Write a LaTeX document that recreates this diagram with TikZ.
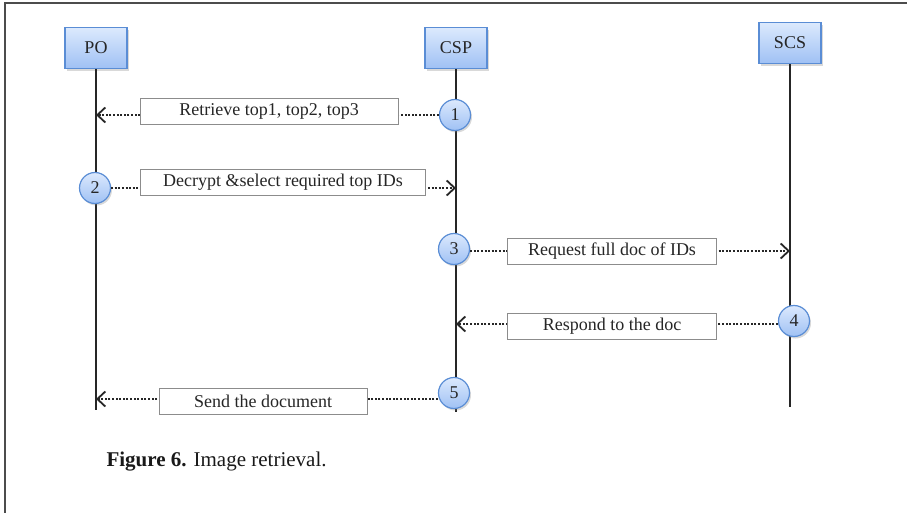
\documentclass[tikz,border=0pt]{standalone}
\usepackage{fontspec}
\setmainfont{Liberation Serif}
\usepackage{color}
\usetikzlibrary{positioning}
\usetikzlibrary{arrows.meta,shadows}

\definecolor{boxtop}{HTML}{DCE9FD}
\definecolor{boxbot}{HTML}{9FC1F4}
\definecolor{boxedge}{HTML}{5A8DD5}

\begin{document}
\begin{tikzpicture}
				[x=1pt,y=-1pt,
					every node/.style={font=\fontsize{18}{20}\selectfont,text=black!85},
					actor/.style={rectangle,draw=boxedge,line width=1.2pt,top color=boxtop,bottom color=boxbot,
						minimum width=62pt,minimum height=41pt,inner sep=0pt,
						drop shadow={opacity=0.3,shadow xshift=2pt,shadow yshift=-2.5pt}},
					stepnum/.style={circle,draw=boxedge,line width=1.2pt,top color=boxtop,bottom color=boxbot,
						minimum size=31pt,inner sep=0pt,
						drop shadow={opacity=0.3,shadow xshift=1.5pt,shadow yshift=-2pt}},
					lbl/.style={rectangle,draw=black!45,line width=0.7pt,fill=white,minimum height=26pt,inner sep=0pt},
					life/.style={line width=1.6pt,black!85},
					msg/.style={line width=2pt,dash pattern=on 2pt off 1.6pt,black!85,
						-{Straight Barb[length=8pt,width=15pt,line width=1.8pt]}}]
				\useasboundingbox (0,0) rectangle (907,513);
				% frame
				\draw[line width=1.4pt,black!70] (5,513) -- (5,3) -- (907,3);
				% lifelines
				\node[actor] (po) at (96,48) {PO};
				\node[actor] (csp) at (456,48) {CSP};
				\node[actor] (scs) at (790,43) {SCS};
				\coordinate (po end) at (96,410);
				\coordinate (csp end) at (456,412);
				\coordinate (scs end) at (790,407);
				\draw[life] (po) -- (po end);
				\draw[life] (csp) -- (csp end);
				\draw[life] (scs) -- (scs end);
				% messages
				\coordinate (po m1) at (96,115);
				\coordinate (csp m2) at (456,188);
				\coordinate (scs m3) at (790,251);
				\coordinate (csp m4) at (456,324);
				\coordinate (po m5) at (96,399);
				\node[stepnum] (s1) at (455,115) {1};
				\node[stepnum] (s2) at (95,188) {2};
				\node[stepnum] (s3) at (454,249) {3};
				\node[stepnum] (s4) at (794,321) {4};
				\node[stepnum] (s5) at (454,393) {5};
				\draw[msg] (s1) -- (po m1);
				\draw[msg] (s2.east) -- (csp m2);
				\draw[msg] (s3.east |- scs m3) -- (scs m3);
				\draw[msg] (s4.west |- csp m4) -- (csp m4);
				\draw[msg] (s5.west |- po m5) -- (po m5);
				\node[lbl,minimum width=258pt] (l1) at (269,111) {Retrieve top1, top2, top3};
				\node[lbl,minimum width=285pt] (l2) at (283,182) {Decrypt \&select required top IDs};
				\node[lbl,minimum width=209pt] (l3) at (612,251) {Request full doc of IDs};
				\node[lbl,minimum width=209pt] (l4) at (612,326) {Respond to the doc};
				\node[lbl,minimum width=208pt] (l5) at (263,401) {Send the document};
				% caption
				\node[anchor=west,font=\fontsize{21}{24}\selectfont,text=black!90] (cap) at (103,462)
					{\textbf{Figure 6.} Image retrieval.};
			\end{tikzpicture}
\end{document}
